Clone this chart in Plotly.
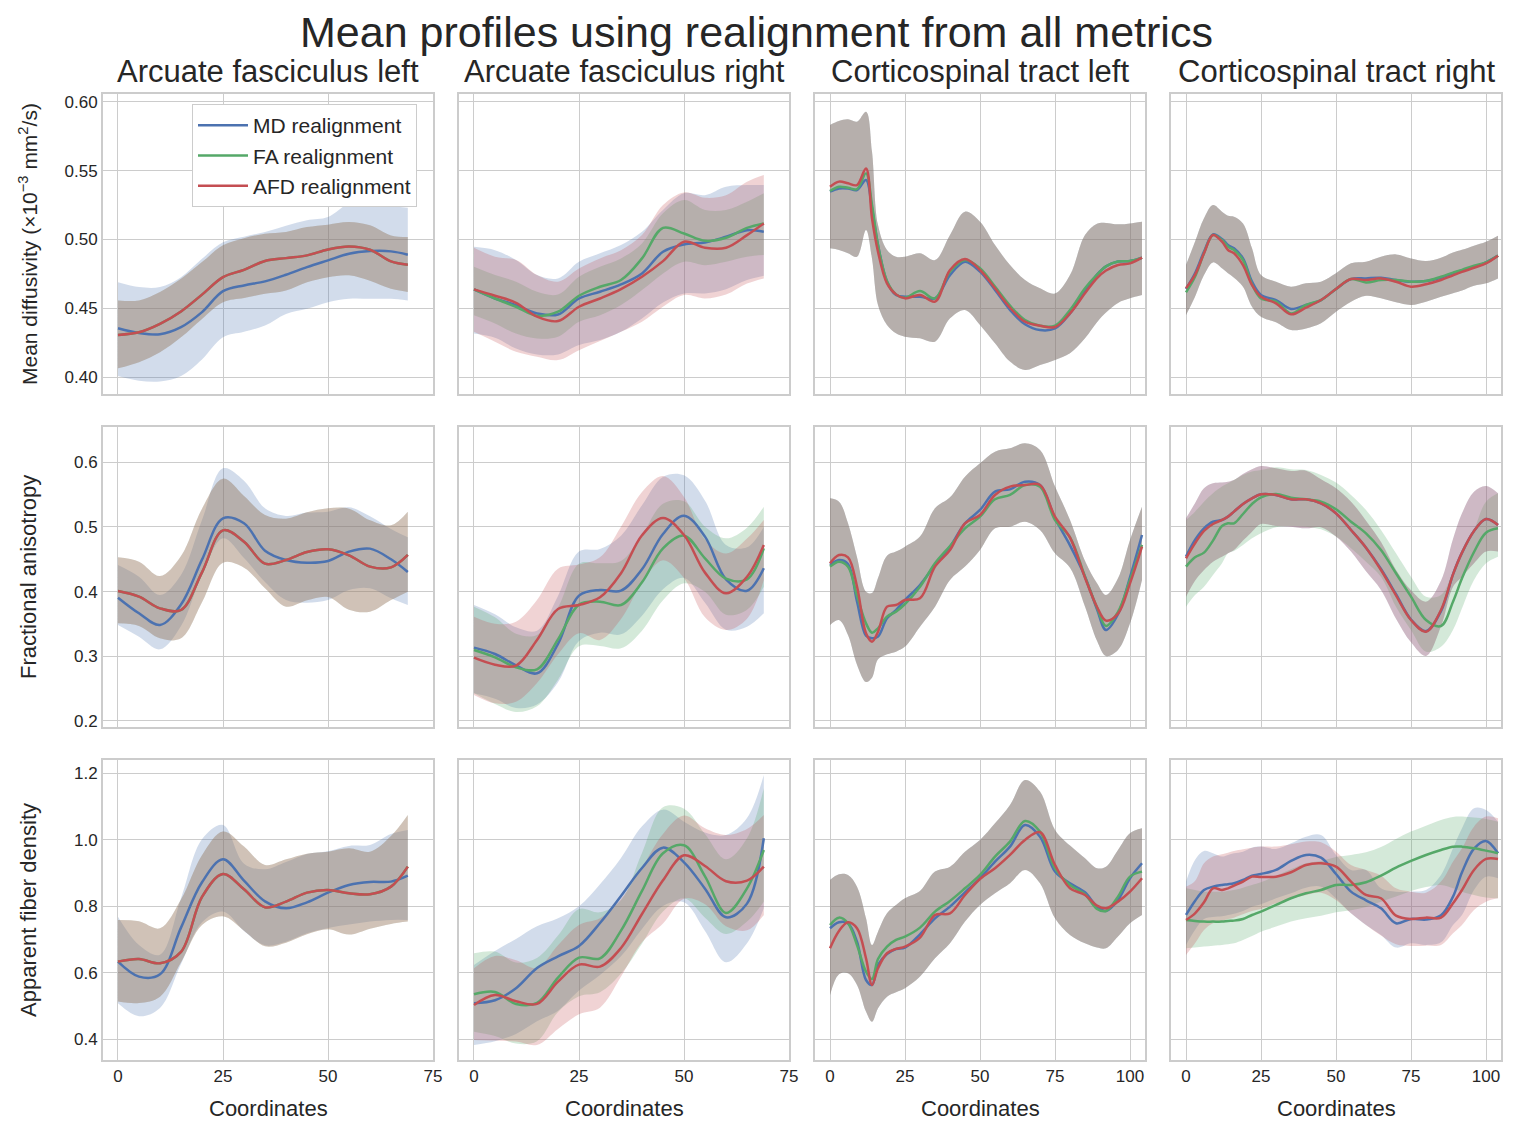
import plotly.graph_objects as go
from plotly.subplots import make_subplots

# positions along each tract where the profiles were read
ARC_X = [0, 5, 10, 15, 20, 25, 30, 35, 40, 45, 50, 55, 60, 65, 69]
CST_X = [0, 3, 6, 9, 12, 14, 16, 19, 22, 25, 30, 35, 40, 45, 50, 55, 60, 65, 70, 75, 80, 85, 89, 92, 96, 100, 104]

TRACTS = ["afl", "afr", "cstl", "cstr"]
TRACT_TITLES = ["Arcuate fasciculus left", "Arcuate fasciculus right",
                "Corticospinal tract left", "Corticospinal tract right"]
METRICS = ["md", "fa", "afd"]
METRIC_TITLES = ["Mean diffusivity (×10<sup>−3</sup> mm<sup>2</sup>/s)",
                 "Fractional anisotropy", "Apparent fiber density"]
REALIGN = ["mdr", "far", "afdr"]
REALIGN_NAMES = ["MD realignment", "FA realignment", "AFD realignment"]

# ---------------- mean diffusivity ----------------
md_afl_mdr = [0.4356, 0.4322, 0.4313, 0.4364, 0.4473, 0.4625, 0.4667, 0.4696, 0.4744, 0.4800, 0.4849, 0.4897, 0.4916, 0.4914, 0.4890]
md_afl_mdr_lo = [0.401, 0.3976, 0.397, 0.401, 0.413, 0.429, 0.433, 0.4376, 0.446, 0.4497, 0.4545, 0.457, 0.457, 0.457, 0.4558]
md_afl_mdr_hi = [0.469, 0.4655, 0.4655, 0.4727, 0.486, 0.498, 0.502, 0.5055, 0.510, 0.514, 0.5164, 0.526, 0.526, 0.5244, 0.523]
md_afl_afdr = [0.4308, 0.4327, 0.4388, 0.4478, 0.4600, 0.4727, 0.4780, 0.4844, 0.4865, 0.4885, 0.4928, 0.4950, 0.4926, 0.4841, 0.4817]
md_afl_afdr_lo = [0.4065, 0.411, 0.4182, 0.429, 0.4424, 0.4545, 0.4575, 0.4606, 0.463, 0.469, 0.4727, 0.474, 0.470, 0.4642, 0.462]
md_afl_afdr_hi = [0.4558, 0.4558, 0.462, 0.4715, 0.4836, 0.4958, 0.501, 0.5042, 0.5055, 0.509, 0.5108, 0.5127, 0.5103, 0.503, 0.5018]

md_afr_mdr = [0.4638, 0.4572, 0.4524, 0.4464, 0.4456, 0.4572, 0.4621, 0.4674, 0.4754, 0.4911, 0.4964, 0.4979, 0.5020, 0.5068, 0.5056]
md_afr_mdr_lo = [0.4318, 0.4287, 0.421, 0.4166, 0.4166, 0.4234, 0.427, 0.433, 0.4427, 0.4543, 0.4609, 0.4609, 0.464, 0.4706, 0.4737]
md_afr_mdr_hi = [0.4947, 0.4923, 0.4851, 0.4742, 0.4718, 0.4839, 0.49, 0.496, 0.5056, 0.5214, 0.5335, 0.5322, 0.5383, 0.5395, 0.5395]
md_afr_far = [0.4638, 0.4572, 0.4512, 0.4447, 0.4476, 0.4592, 0.4657, 0.4706, 0.4863, 0.5085, 0.5044, 0.4991, 0.5013, 0.5085, 0.5117]
md_afr_far_lo = [0.4451, 0.4391, 0.4318, 0.4282, 0.4294, 0.4403, 0.4451, 0.4524, 0.4633, 0.4754, 0.4839, 0.4814, 0.4839, 0.4875, 0.4887]
md_afr_far_hi = [0.4802, 0.4742, 0.4694, 0.4621, 0.4601, 0.473, 0.4802, 0.4863, 0.4972, 0.519, 0.5286, 0.5214, 0.5214, 0.5274, 0.5335]
md_afr_afdr = [0.4638, 0.4592, 0.4541, 0.4440, 0.4408, 0.4512, 0.4572, 0.4640, 0.4730, 0.4843, 0.4984, 0.4940, 0.4940, 0.5032, 0.5117]
md_afr_afdr_lo = [0.433, 0.4258, 0.4185, 0.4149, 0.4125, 0.4197, 0.4263, 0.433, 0.4403, 0.4512, 0.4597, 0.4572, 0.4601, 0.4681, 0.4718]
md_afr_afdr_hi = [0.494, 0.4875, 0.4851, 0.4742, 0.4694, 0.479, 0.4863, 0.4923, 0.5032, 0.525, 0.5342, 0.5303, 0.5322, 0.5419, 0.5468]

md_cstl_mdr = [0.5347, 0.5371, 0.5371, 0.5359, 0.5432, 0.5226, 0.4960, 0.4694, 0.4597, 0.4585, 0.4585, 0.4573, 0.4742, 0.4839, 0.4767, 0.4634, 0.4489, 0.4385, 0.4343, 0.4355, 0.4464, 0.4622, 0.4745, 0.4805, 0.4840, 0.4844, 0.4868]
md_cstl_far = [0.5352, 0.5383, 0.5376, 0.5366, 0.5480, 0.5250, 0.4960, 0.4699, 0.4602, 0.4578, 0.4626, 0.4573, 0.4767, 0.4851, 0.4791, 0.4658, 0.4520, 0.4416, 0.4375, 0.4375, 0.4489, 0.4646, 0.4745, 0.4805, 0.4840, 0.4844, 0.4868]
md_cstl_afdr = [0.5383, 0.5420, 0.5408, 0.5395, 0.5516, 0.5154, 0.4912, 0.4682, 0.4602, 0.4573, 0.4597, 0.4549, 0.4779, 0.4859, 0.4779, 0.4646, 0.4505, 0.4404, 0.4375, 0.4365, 0.4464, 0.4610, 0.4720, 0.4775, 0.4815, 0.4827, 0.4868]
md_cstl_lo = [0.4936, 0.4924, 0.49, 0.4875, 0.5069, 0.4863, 0.4525, 0.438, 0.4319, 0.4295, 0.4283, 0.4259, 0.4428, 0.4489, 0.438, 0.4247, 0.4114, 0.4053, 0.4089, 0.4126, 0.4174, 0.4283, 0.44, 0.447, 0.454, 0.4573, 0.4597]
md_cstl_hi = [0.5831, 0.586, 0.5872, 0.5855, 0.5927, 0.5637, 0.5105, 0.4924, 0.4875, 0.4875, 0.49, 0.4851, 0.5033, 0.5202, 0.5129, 0.496, 0.4815, 0.4706, 0.4646, 0.4609, 0.4742, 0.5033, 0.5115, 0.512, 0.511, 0.5117, 0.5129]

md_cstr_mdr = [0.4641, 0.4755, 0.4912, 0.5037, 0.5004, 0.4960, 0.4936, 0.4863, 0.4694, 0.4597, 0.4561, 0.4496, 0.4525, 0.4561, 0.4641, 0.4713, 0.4718, 0.4723, 0.4706, 0.4694, 0.4699, 0.4723, 0.4755, 0.4775, 0.4800, 0.4834, 0.4883]
md_cstr_far = [0.4617, 0.4730, 0.4900, 0.5033, 0.4996, 0.4948, 0.4924, 0.4851, 0.4675, 0.4573, 0.4549, 0.4464, 0.4525, 0.4561, 0.4641, 0.4713, 0.4689, 0.4706, 0.4706, 0.4694, 0.4699, 0.4730, 0.4760, 0.4780, 0.4810, 0.4834, 0.4883]
md_cstr_afdr = [0.4646, 0.4743, 0.4900, 0.5033, 0.4984, 0.4924, 0.4900, 0.4815, 0.4670, 0.4585, 0.4537, 0.4457, 0.4506, 0.4561, 0.4641, 0.4713, 0.4706, 0.4718, 0.4694, 0.4658, 0.4675, 0.4706, 0.4740, 0.4765, 0.4795, 0.4827, 0.4883]
md_cstr_lo = [0.4452, 0.4585, 0.4742, 0.4834, 0.4791, 0.4755, 0.4723, 0.4658, 0.4513, 0.444, 0.4399, 0.4343, 0.4355, 0.4392, 0.4476, 0.4549, 0.4592, 0.4573, 0.4544, 0.4525, 0.4549, 0.4585, 0.461, 0.463, 0.4665, 0.4682, 0.4718]
md_cstr_hi = [0.4815, 0.4984, 0.5154, 0.525, 0.5202, 0.5173, 0.5166, 0.5117, 0.4936, 0.4742, 0.4694, 0.4658, 0.4682, 0.4694, 0.4755, 0.4827, 0.4839, 0.4875, 0.4892, 0.4863, 0.4844, 0.4868, 0.4905, 0.4925, 0.4955, 0.4984, 0.5028]

# ---------------- fractional anisotropy ----------------
fa_afl_mdr = [0.3907, 0.3665, 0.3485, 0.3800, 0.4495, 0.5134, 0.5057, 0.4634, 0.4490, 0.4448, 0.4474, 0.4619, 0.4665, 0.4500, 0.4304]
fa_afl_mdr_lo = [0.3485, 0.3304, 0.3108, 0.3469, 0.4258, 0.4825, 0.4521, 0.4150, 0.3871, 0.3830, 0.3871, 0.4026, 0.4052, 0.3897, 0.3794]
fa_afl_mdr_hi = [0.4412, 0.4232, 0.3948, 0.4258, 0.5108, 0.5907, 0.5716, 0.5289, 0.5170, 0.5222, 0.5237, 0.5304, 0.5165, 0.4969, 0.4840]
fa_afl_afdr = [0.4010, 0.3923, 0.3742, 0.3716, 0.4299, 0.4948, 0.4773, 0.4433, 0.4490, 0.4613, 0.4655, 0.4562, 0.4387, 0.4376, 0.4567]
fa_afl_afdr_lo = [0.3510, 0.3469, 0.3278, 0.3278, 0.3835, 0.4448, 0.4371, 0.4052, 0.3768, 0.3866, 0.3918, 0.3722, 0.3691, 0.3871, 0.4000]
fa_afl_afdr_hi = [0.4531, 0.4464, 0.4242, 0.4552, 0.5283, 0.5747, 0.5479, 0.5186, 0.5129, 0.5227, 0.5289, 0.5283, 0.5103, 0.5026, 0.5237]

fa_afr_mdr = [0.3134, 0.3036, 0.2861, 0.2737, 0.3191, 0.3938, 0.4026, 0.4015, 0.4345, 0.4892, 0.5175, 0.4851, 0.4191, 0.4015, 0.4361]
fa_afr_mdr_lo = [0.2428, 0.2345, 0.2201, 0.2253, 0.2598, 0.3237, 0.3366, 0.3340, 0.3629, 0.4036, 0.4211, 0.3830, 0.3412, 0.3459, 0.3665]
fa_afr_mdr_hi = [0.3794, 0.3650, 0.3448, 0.3397, 0.3933, 0.4619, 0.4660, 0.4866, 0.5335, 0.5773, 0.5799, 0.5407, 0.4722, 0.4686, 0.5005]
fa_afr_far = [0.3098, 0.2985, 0.2830, 0.2799, 0.3263, 0.3799, 0.3845, 0.3794, 0.4144, 0.4670, 0.4866, 0.4515, 0.4201, 0.4191, 0.4670]
fa_afr_far_lo = [0.2428, 0.2263, 0.2139, 0.2227, 0.2639, 0.3155, 0.3160, 0.3124, 0.3397, 0.3866, 0.4129, 0.4000, 0.3644, 0.3722, 0.4077]
fa_afr_far_hi = [0.3768, 0.3603, 0.3350, 0.3330, 0.3758, 0.4433, 0.4438, 0.4474, 0.4876, 0.5361, 0.5397, 0.5005, 0.4825, 0.4990, 0.5314]
fa_afr_afdr = [0.2979, 0.2871, 0.2856, 0.3253, 0.3732, 0.3794, 0.3912, 0.4284, 0.4871, 0.5139, 0.4876, 0.4294, 0.3974, 0.4230, 0.4722]
fa_afr_afdr_lo = [0.2402, 0.2273, 0.2299, 0.2588, 0.3031, 0.3356, 0.3253, 0.3577, 0.4139, 0.4485, 0.4211, 0.3603, 0.3407, 0.3582, 0.4180]
fa_afr_afdr_hi = [0.3613, 0.3505, 0.3536, 0.3871, 0.4356, 0.4418, 0.4531, 0.5005, 0.5541, 0.5789, 0.5464, 0.4805, 0.4588, 0.4820, 0.5108]

fa_cstl_mdr = [0.4412, 0.4490, 0.4428, 0.3850, 0.3320, 0.3278, 0.3304, 0.3588, 0.3716, 0.3871, 0.4103, 0.4412, 0.4696, 0.5057, 0.5263, 0.5546, 0.5582, 0.5701, 0.5649, 0.5134, 0.4716, 0.4232, 0.3727, 0.3407, 0.3650, 0.4222, 0.4876]
fa_cstl_far = [0.4387, 0.4464, 0.4387, 0.3933, 0.3510, 0.3366, 0.3433, 0.3613, 0.3691, 0.3809, 0.4077, 0.4438, 0.4706, 0.4979, 0.5160, 0.5428, 0.5495, 0.5649, 0.5624, 0.5108, 0.4840, 0.4232, 0.3753, 0.3469, 0.3686, 0.4180, 0.4722]
fa_cstl_afdr = [0.4438, 0.4567, 0.4531, 0.4080, 0.3356, 0.3227, 0.3381, 0.3768, 0.3794, 0.3871, 0.3897, 0.4387, 0.4644, 0.5057, 0.5186, 0.5495, 0.5624, 0.5649, 0.5649, 0.5160, 0.4835, 0.4216, 0.3763, 0.3552, 0.3660, 0.4129, 0.4696]
fa_cstl_lo = [0.3485, 0.3562, 0.3330, 0.2871, 0.2603, 0.2670, 0.2954, 0.3031, 0.3072, 0.3150, 0.3459, 0.3768, 0.4180, 0.4387, 0.4644, 0.4979, 0.5005, 0.5082, 0.4954, 0.4593, 0.4370, 0.3770, 0.3240, 0.3005, 0.3098, 0.3510, 0.4180]
fa_cstl_hi = [0.5443, 0.5392, 0.5057, 0.4531, 0.4000, 0.3979, 0.4211, 0.4557, 0.4619, 0.4696, 0.4851, 0.5289, 0.5459, 0.5778, 0.5985, 0.6165, 0.6216, 0.6294, 0.6190, 0.5624, 0.5108, 0.4474, 0.4129, 0.3948, 0.4206, 0.4799, 0.5314]

fa_cstr_mdr = [0.4541, 0.4799, 0.4979, 0.5082, 0.5108, 0.5160, 0.5237, 0.5356, 0.5443, 0.5505, 0.5495, 0.5428, 0.5428, 0.5366, 0.5211, 0.4954, 0.4680, 0.4350, 0.3960, 0.3570, 0.3390, 0.3700, 0.4268, 0.4603, 0.4938, 0.5124, 0.5031]
fa_cstr_far = [0.4387, 0.4531, 0.4603, 0.4789, 0.5015, 0.5057, 0.5057, 0.5201, 0.5356, 0.5459, 0.5510, 0.5454, 0.5428, 0.5392, 0.5273, 0.5082, 0.4902, 0.4644, 0.4284, 0.3923, 0.3562, 0.3469, 0.3845, 0.4206, 0.4613, 0.4912, 0.4979]
fa_cstr_far_lo = [0.3768, 0.3948, 0.4077, 0.4258, 0.4438, 0.4593, 0.4629, 0.4722, 0.4825, 0.4902, 0.4995, 0.5015, 0.5005, 0.4964, 0.4851, 0.4670, 0.4464, 0.4232, 0.3768, 0.3407, 0.3072, 0.3149, 0.3407, 0.3742, 0.4180, 0.4438, 0.4541]
fa_cstr_far_hi = [0.5108, 0.5237, 0.5392, 0.5521, 0.5624, 0.5675, 0.5727, 0.5804, 0.5856, 0.5881, 0.5923, 0.5892, 0.5881, 0.5804, 0.5686, 0.5495, 0.5263, 0.4954, 0.4593, 0.4232, 0.3923, 0.3948, 0.4309, 0.4593, 0.4954, 0.5392, 0.5521]
fa_cstr_afdr = [0.4515, 0.4747, 0.4938, 0.5046, 0.5108, 0.5160, 0.5237, 0.5356, 0.5443, 0.5505, 0.5495, 0.5428, 0.5428, 0.5366, 0.5211, 0.4954, 0.4680, 0.4335, 0.3943, 0.3562, 0.3381, 0.3716, 0.4268, 0.4603, 0.4938, 0.5124, 0.5031]
fa_cstr_lo = [0.3923, 0.4170, 0.4335, 0.4464, 0.4541, 0.4593, 0.4644, 0.4789, 0.4928, 0.5046, 0.5015, 0.5005, 0.4979, 0.4995, 0.4851, 0.4619, 0.4314, 0.4026, 0.3582, 0.3216, 0.3005, 0.3464, 0.4077, 0.4232, 0.4438, 0.4619, 0.4619]
fa_cstr_hi = [0.5134, 0.5366, 0.5598, 0.5675, 0.5686, 0.5701, 0.5727, 0.5820, 0.5892, 0.5943, 0.5907, 0.5866, 0.5871, 0.5737, 0.5598, 0.5392, 0.5098, 0.4768, 0.4335, 0.4021, 0.3845, 0.4170, 0.4814, 0.5211, 0.5546, 0.5634, 0.5521]

# ---------------- apparent fiber density ----------------
afd_afl_mdr = [0.6336, 0.5885, 0.5955, 0.7358, 0.8722, 0.9414, 0.8772, 0.8150, 0.7940, 0.8120, 0.8411, 0.8642, 0.8732, 0.8742, 0.8922]
afd_afl_mdr_lo = [0.5083, 0.4692, 0.4942, 0.6266, 0.7519, 0.7840, 0.7258, 0.6827, 0.6937, 0.7188, 0.7348, 0.7449, 0.7539, 0.7589, 0.7589]
afd_afl_mdr_hi = [0.7689, 0.6837, 0.6546, 0.8241, 1.0015, 1.0446, 0.9283, 0.9113, 0.9333, 0.9574, 0.9654, 0.9815, 0.9845, 1.0175, 1.0296]
afd_afl_afdr = [0.6336, 0.6416, 0.6286, 0.6627, 0.8281, 0.8972, 0.8511, 0.7970, 0.8140, 0.8411, 0.8491, 0.8391, 0.8361, 0.8591, 0.9193]
afd_afl_afdr_lo = [0.5133, 0.5093, 0.5283, 0.6316, 0.7439, 0.7699, 0.7268, 0.6797, 0.6907, 0.7158, 0.7308, 0.7148, 0.7328, 0.7469, 0.7539]
afd_afl_afdr_hi = [0.7589, 0.7549, 0.7338, 0.8201, 0.9534, 1.0246, 0.9795, 0.9243, 0.9414, 0.9584, 0.9644, 0.9744, 0.9644, 1.0115, 1.0747]

afd_afr_mdr = [0.5083, 0.5173, 0.5534, 0.6145, 0.6496, 0.6807, 0.7499, 0.8311, 0.9153, 0.9764, 0.9323, 0.8531, 0.7669, 0.8080, 1.0045]
afd_afr_mdr_lo = [0.3830, 0.3940, 0.4160, 0.4541, 0.4862, 0.5464, 0.5935, 0.6496, 0.7318, 0.8010, 0.8120, 0.7258, 0.6316, 0.6887, 0.7940]
afd_afr_mdr_hi = [0.6236, 0.6657, 0.7018, 0.7399, 0.7639, 0.8000, 0.8662, 0.9454, 1.0406, 1.0907, 1.0546, 1.0216, 1.0145, 1.0657, 1.1950]
afd_afr_far = [0.5353, 0.5424, 0.5063, 0.5093, 0.5855, 0.6456, 0.6436, 0.7268, 0.8461, 0.9594, 0.9835, 0.8902, 0.7800, 0.8541, 0.9694]
afd_afr_far_lo = [0.4230, 0.4100, 0.3870, 0.3940, 0.4822, 0.5293, 0.5414, 0.5975, 0.6877, 0.7840, 0.8241, 0.7659, 0.7168, 0.7539, 0.8140]
afd_afr_far_hi = [0.6587, 0.6637, 0.6306, 0.6446, 0.7118, 0.7920, 0.7820, 0.8181, 0.9604, 1.0977, 1.0937, 1.0175, 0.9414, 1.0045, 1.1549]
afd_afr_afdr = [0.5033, 0.5333, 0.5143, 0.5063, 0.5734, 0.6246, 0.6186, 0.6747, 0.7769, 0.8782, 0.9534, 0.9213, 0.8752, 0.8772, 0.9193]
afd_afr_afdr_lo = [0.3980, 0.3960, 0.3930, 0.3830, 0.4311, 0.4752, 0.4952, 0.5885, 0.6917, 0.7479, 0.8230, 0.8060, 0.7399, 0.7278, 0.7739]
afd_afr_afdr_hi = [0.6136, 0.6506, 0.6376, 0.6145, 0.6827, 0.7439, 0.7639, 0.8221, 0.9163, 1.0175, 1.0727, 1.0346, 1.0145, 1.0326, 1.0747]

afd_cstl_mdr = [0.7338, 0.7519, 0.7489, 0.6937, 0.5784, 0.5634, 0.6236, 0.6566, 0.6717, 0.6757, 0.7158, 0.7639, 0.7990, 0.8421, 0.8842, 0.9343, 0.9795, 1.0446, 1.0095, 0.9043, 0.8692, 0.8421, 0.7990, 0.7860, 0.8191, 0.8842, 0.9293]
afd_cstl_far = [0.7439, 0.7659, 0.7489, 0.6837, 0.6035, 0.5815, 0.6416, 0.6787, 0.6988, 0.7088, 0.7358, 0.7840, 0.8161, 0.8541, 0.8942, 0.9494, 0.9945, 1.0566, 1.0246, 0.9143, 0.8642, 0.8361, 0.7920, 0.7860, 0.8291, 0.8892, 0.9043]
afd_cstl_afdr = [0.6737, 0.7258, 0.7519, 0.7338, 0.6436, 0.5634, 0.6136, 0.6587, 0.6717, 0.6787, 0.7058, 0.7739, 0.7789, 0.8341, 0.8822, 0.9143, 0.9544, 0.9995, 1.0226, 0.9243, 0.8541, 0.8341, 0.8020, 0.7940, 0.8140, 0.8441, 0.8842]
afd_cstl_lo = [0.5333, 0.5955, 0.5985, 0.5634, 0.4832, 0.4531, 0.4932, 0.5283, 0.5414, 0.5534, 0.5885, 0.6436, 0.6887, 0.7539, 0.8040, 0.8391, 0.8692, 0.9093, 0.8692, 0.7639, 0.7138, 0.6887, 0.6757, 0.6737, 0.7088, 0.7489, 0.7739]
afd_cstl_hi = [0.8792, 0.8962, 0.8942, 0.8591, 0.7639, 0.6837, 0.7238, 0.7789, 0.8040, 0.8241, 0.8461, 0.9043, 0.9193, 0.9644, 0.9995, 1.0496, 1.1048, 1.1800, 1.1449, 1.0296, 0.9825, 0.9444, 0.9143, 0.9193, 0.9694, 1.0196, 1.0346]

afd_cstr_mdr = [0.7739, 0.8160, 0.8491, 0.8591, 0.8642, 0.8662, 0.8692, 0.8792, 0.8922, 0.8972, 0.9093, 0.9363, 0.9544, 0.9464, 0.8972, 0.8441, 0.8180, 0.7940, 0.7489, 0.7619, 0.7599, 0.7729, 0.8291, 0.9023, 0.9734, 0.9965, 0.9594]
afd_cstr_mdr_lo = [0.6837, 0.7288, 0.7619, 0.7679, 0.7699, 0.7739, 0.7779, 0.7860, 0.7990, 0.8060, 0.8241, 0.8391, 0.8561, 0.8591, 0.8241, 0.7789, 0.7439, 0.7138, 0.6757, 0.6887, 0.6837, 0.6917, 0.7439, 0.7739, 0.8491, 0.8892, 0.8842]
afd_cstr_mdr_hi = [0.8742, 0.9394, 0.9664, 0.9594, 0.9494, 0.9544, 0.9594, 0.9644, 0.9764, 0.9795, 0.9724, 0.9895, 1.0095, 1.0145, 0.9544, 0.9093, 0.9093, 0.8541, 0.8441, 0.8441, 0.8491, 0.8942, 0.9745, 1.0346, 1.0947, 1.0897, 1.0546]
afd_cstr_far = [0.7589, 0.7559, 0.7539, 0.7539, 0.7539, 0.7559, 0.7569, 0.7619, 0.7739, 0.7840, 0.8040, 0.8241, 0.8391, 0.8491, 0.8642, 0.8642, 0.8722, 0.8922, 0.9163, 0.9364, 0.9544, 0.9694, 0.9794, 0.9794, 0.9745, 0.9674, 0.9594]
afd_cstr_far_lo = [0.6737, 0.6757, 0.6787, 0.6817, 0.6837, 0.6857, 0.6887, 0.6988, 0.7108, 0.7238, 0.7389, 0.7539, 0.7639, 0.7719, 0.7820, 0.7880, 0.7980, 0.8140, 0.8291, 0.8461, 0.8581, 0.8642, 0.8541, 0.8441, 0.8341, 0.8261, 0.8241]
afd_cstr_far_hi = [0.8541, 0.8491, 0.8441, 0.8441, 0.8441, 0.8461, 0.8491, 0.8561, 0.8642, 0.8722, 0.8922, 0.9113, 0.9293, 0.9364, 0.9484, 0.9544, 0.9624, 0.9784, 1.0025, 1.0246, 1.0426, 1.0597, 1.0687, 1.0697, 1.0667, 1.0627, 1.0546]
afd_cstr_afdr = [0.7589, 0.7789, 0.8120, 0.8541, 0.8491, 0.8541, 0.8622, 0.8742, 0.8892, 0.8882, 0.8892, 0.9023, 0.9243, 0.9293, 0.9193, 0.8742, 0.8341, 0.8241, 0.7719, 0.7619, 0.7659, 0.7659, 0.8091, 0.8491, 0.9093, 0.9424, 0.9424]
afd_cstr_afdr_lo = [0.6537, 0.6887, 0.7288, 0.7489, 0.7559, 0.7619, 0.7659, 0.7759, 0.7860, 0.7920, 0.8090, 0.8221, 0.8341, 0.8411, 0.8191, 0.7789, 0.7439, 0.7118, 0.6857, 0.6807, 0.6817, 0.6837, 0.7188, 0.7439, 0.7890, 0.8140, 0.8241]
afd_cstr_afdr_hi = [0.8591, 0.8762, 0.9293, 0.9494, 0.9564, 0.9614, 0.9664, 0.9714, 0.9764, 0.9795, 0.9795, 0.9865, 0.9945, 0.9925, 0.9644, 0.9243, 0.9093, 0.8922, 0.8541, 0.8441, 0.8411, 0.8742, 0.9343, 0.9745, 1.0396, 1.0697, 1.0647]

# left arcuate: FA realignment gives the same profiles as AFD realignment
# (the green curve sits exactly under the red one)
for m in METRICS:
    for suffix in ["", "_lo", "_hi"]:
        globals()[f"{m}_afl_far{suffix}"] = globals()[f"{m}_afl_afdr{suffix}"]

# panels where the three bands were read as one shared band
for m, t, rs in [("md", "cstl", REALIGN), ("md", "cstr", REALIGN), ("fa", "cstl", REALIGN),
                 ("fa", "cstr", ["mdr", "afdr"]), ("afd", "cstl", REALIGN)]:
    for r in rs:
        globals()[f"{m}_{t}_{r}_lo"] = globals()[f"{m}_{t}_lo"]
        globals()[f"{m}_{t}_{r}_hi"] = globals()[f"{m}_{t}_hi"]

COLORS = ["#4C72B0", "#55A868", "#C44E52"]
FONT = "Liberation Sans, Arial, sans-serif"
TEXT = "#262626"
GRID = "#cccccc"


def rgba(hex_color, a):
    h = hex_color.lstrip("#")
    return "rgba({},{},{},{})".format(int(h[0:2], 16), int(h[2:4], 16), int(h[4:6], 16), a)


# figure geometry (pixels); the page puts the figure 8px in from the corner
W, H = 1517, 1135
OFF = 8
L, R, T, B = 103 - OFF, 16 + OFF, 94 - OFF, 75 + OFF


def px(x):
    return (x - OFF - L) / (W - L - R)


def py(y):
    return (H - B - (y - OFF)) / (H - T - B)


fig = make_subplots(rows=3, cols=4, shared_xaxes=True, shared_yaxes=True,
                    horizontal_spacing=26 / (W - L - R), vertical_spacing=33 / (H - T - B))

for i, m in enumerate(METRICS):
    for j, t in enumerate(TRACTS):
        xs = ARC_X if j < 2 else CST_X
        # bands first
        for k, r in enumerate(REALIGN):
            lo = globals()[f"{m}_{t}_{r}_lo"]
            hi = globals()[f"{m}_{t}_{r}_hi"]
            fig.add_trace(go.Scatter(x=xs, y=lo, mode="lines", line=dict(width=0, shape="spline"),
                                     showlegend=False, hoverinfo="skip"), row=i + 1, col=j + 1)
            fig.add_trace(go.Scatter(x=xs, y=hi, mode="lines", line=dict(width=0, shape="spline"),
                                     fill="tonexty", fillcolor=rgba(COLORS[k], 0.25),
                                     showlegend=False, hoverinfo="skip"), row=i + 1, col=j + 1)
        # mean profiles on top
        for k, r in enumerate(REALIGN):
            fig.add_trace(go.Scatter(x=xs, y=globals()[f"{m}_{t}_{r}"], mode="lines",
                                     name=REALIGN_NAMES[k],
                                     line=dict(color=COLORS[k], width=2.5, shape="spline"),
                                     showlegend=(i == 0 and j == 0)), row=i + 1, col=j + 1)

axis_style = dict(showgrid=True, gridcolor=GRID, gridwidth=1.3, showline=True, linecolor=GRID,
                  linewidth=1.8, mirror=True, zeroline=False, ticks="",
                  tickfont=dict(family=FONT, size=17, color=TEXT))
fig.update_xaxes(**axis_style, tick0=0, dtick=25)
fig.update_yaxes(**axis_style)

for j in range(4):
    rng = [-3.57, 75.0] if j < 2 else [-5, 105]
    fig.update_xaxes(range=rng, col=j + 1)

y_ranges = [[0.3879, 0.6056], [0.1907, 0.6546], [0.3377, 1.240]]
y_ticks = [dict(tick0=0.4, dtick=0.05, tickformat=".2f"),
           dict(tick0=0.2, dtick=0.1, tickformat=".1f"),
           dict(tick0=0.4, dtick=0.2, tickformat=".1f")]
for i in range(3):
    fig.update_yaxes(range=y_ranges[i], row=i + 1, **y_ticks[i])

ann = [dict(text="Mean profiles using realignment from all metrics", x=px(756), y=py(32),
            font=dict(size=43, family=FONT, color=TEXT))]
col_centers = [268, 624, 980, 1336]
for j, title in enumerate(TRACT_TITLES):
    ann.append(dict(text=title, x=px(col_centers[j]), y=py(72), font=dict(size=31, family=FONT, color=TEXT)))
    ann.append(dict(text="Coordinates", x=px(col_centers[j]), y=py(1108), font=dict(size=22, family=FONT, color=TEXT)))
row_centers = [244, 577, 910]
for i, title in enumerate(METRIC_TITLES):
    ann.append(dict(text=title, x=px(28), y=py(row_centers[i]), textangle=-90,
                    font=dict(size=22 if i else 21, family=FONT, color=TEXT)))
for a in ann:
    a.update(xref="paper", yref="paper", showarrow=False, xanchor="center", yanchor="middle")

fig.update_layout(
    width=W, height=H,
    margin=dict(l=L, r=R, t=T, b=B),
    paper_bgcolor="white", plot_bgcolor="white",
    font=dict(family=FONT, color=TEXT),
    annotations=ann,
    legend=dict(x=px(192), y=py(104), xanchor="left", yanchor="top", traceorder="normal",
                itemwidth=50, bgcolor="white", bordercolor=GRID, borderwidth=1,
                font=dict(size=21, family=FONT, color=TEXT)),
)

fig.write_html("out.html")
